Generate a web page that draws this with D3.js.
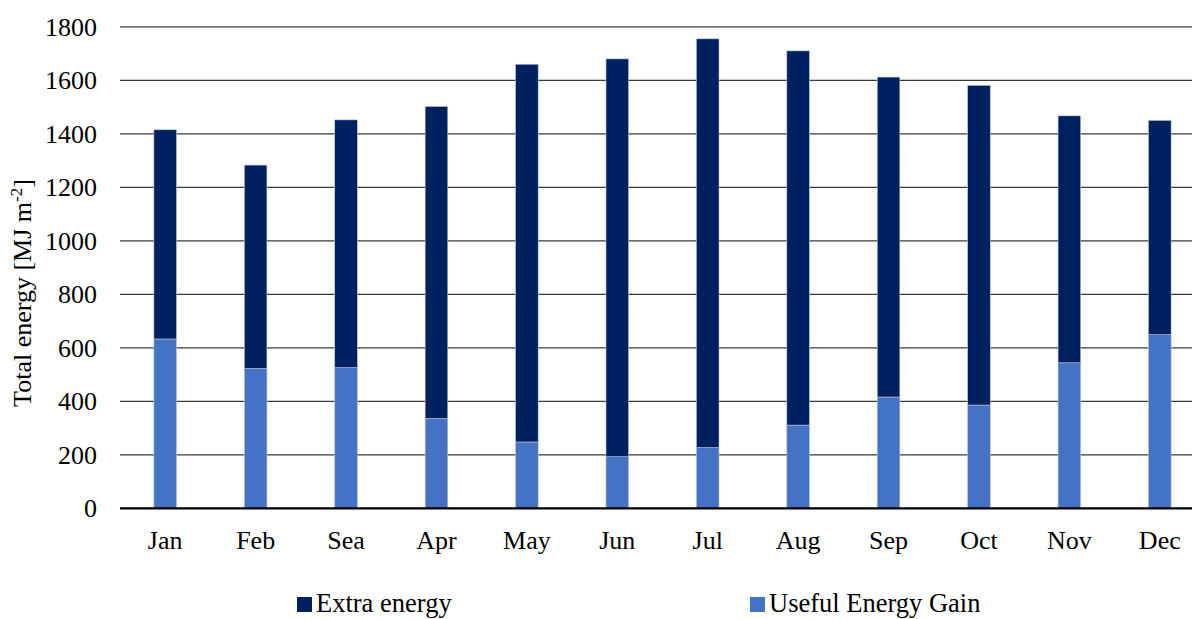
<!DOCTYPE html>
<html>
<head>
<meta charset="utf-8">
<script src="https://cdn.jsdelivr.net/npm/d3@7"></script>
<style>
  html, body { margin: 0; padding: 0; background: #fff; overflow: hidden; }
  svg { display: block; font-family: "Liberation Serif", "Times New Roman", serif; }
</style>
</head>
<body>
<svg id="chart" width="1192" height="619"></svg>
<script>
// Monthly energy per unit area, MJ m^-2
const months = ["Jan", "Feb", "Sea", "Apr", "May", "Jun", "Jul", "Aug", "Sep", "Oct", "Nov", "Dec"];
const usefulEnergyGain = [633, 523, 526, 336, 248, 193, 227, 311, 416, 386, 544, 649];
const extraEnergy = [782, 760, 926, 1166, 1412, 1487, 1528, 1399, 1196, 1195, 923, 801];
const yTicks = [0, 200, 400, 600, 800, 1000, 1200, 1400, 1600, 1800];

const seriesNames = ["Useful Energy Gain", "Extra energy"];
const colors = { "Useful Energy Gain": "#4472C4", "Extra energy": "#002060" };

const svg = d3.select("#chart");
const margin = { left: 120, right: 1205, top: 26.8, bottom: 508.3 };

const rows = months.map((m, i) => ({
  month: m,
  "Useful Energy Gain": usefulEnergyGain[i],
  "Extra energy": extraEnergy[i]
}));
const stacked = d3.stack().keys(seriesNames)(rows);

const x = d3.scaleBand().domain(months).range([margin.left, margin.right]).paddingInner(0.75).paddingOuter(0.375);
const y = d3.scaleLinear().domain([0, 1800]).range([margin.bottom, margin.top]);

// Horizontal gridlines
svg.append("g")
  .selectAll("line")
  .data(yTicks.filter(t => t > 0))
  .join("line")
  .attr("x1", margin.left).attr("x2", margin.right)
  .attr("y1", d => y(d)).attr("y2", d => y(d))
  .attr("stroke", "#3a3a3a").attr("stroke-width", 1.3);

// Y tick labels
svg.append("g")
  .selectAll("text")
  .data(yTicks)
  .join("text")
  .attr("x", 97)
  .attr("y", d => y(d))
  .attr("dy", "0.34em")
  .attr("text-anchor", "end")
  .attr("font-size", 26)
  .attr("fill", "#000")
  .text(d => d);

// Stacked bars
svg.append("g")
  .selectAll("g")
  .data(stacked)
  .join("g")
  .attr("fill", d => colors[d.key])
  .selectAll("rect")
  .data(d => d)
  .join("rect")
  .attr("x", d => x(d.data.month))
  .attr("width", x.bandwidth())
  .attr("y", d => y(d[1]))
  .attr("height", d => y(d[0]) - y(d[1]))
  .attr("stroke", "#b9c4dc")
  .attr("stroke-width", 0.6);

// Baseline axis
svg.append("line")
  .attr("x1", margin.left).attr("x2", margin.right)
  .attr("y1", y(0)).attr("y2", y(0))
  .attr("stroke", "#000").attr("stroke-width", 2.2);

// Month labels
svg.append("g")
  .selectAll("text")
  .data(months)
  .join("text")
  .attr("x", d => x(d) + x.bandwidth() / 2)
  .attr("y", 549)
  .attr("text-anchor", "middle")
  .attr("font-size", 26)
  .attr("fill", "#000")
  .text(d => d);

// Y axis title
const yTitle = svg.append("text")
  .attr("transform", "translate(31,293) rotate(-90)")
  .attr("text-anchor", "middle")
  .attr("font-size", 26)
  .attr("fill", "#000");
yTitle.append("tspan").text("Total energy [MJ m");
yTitle.append("tspan").attr("baseline-shift", "super").attr("font-size", 17).text("-2");
yTitle.append("tspan").text("]");

// Legend
const legendItems = [
  { name: "Extra energy", x: 297 },
  { name: "Useful Energy Gain", x: 750 }
];
const legend = svg.append("g")
  .selectAll("g")
  .data(legendItems)
  .join("g")
  .attr("transform", d => `translate(${d.x},0)`);
legend.append("rect")
  .attr("x", 0).attr("y", 597)
  .attr("width", 15).attr("height", 15)
  .attr("fill", d => colors[d.name]);
legend.append("text")
  .attr("x", 19).attr("y", 612)
  .attr("font-size", 26.5)
  .attr("fill", "#000")
  .text(d => d.name);
</script>
</body>
</html>
